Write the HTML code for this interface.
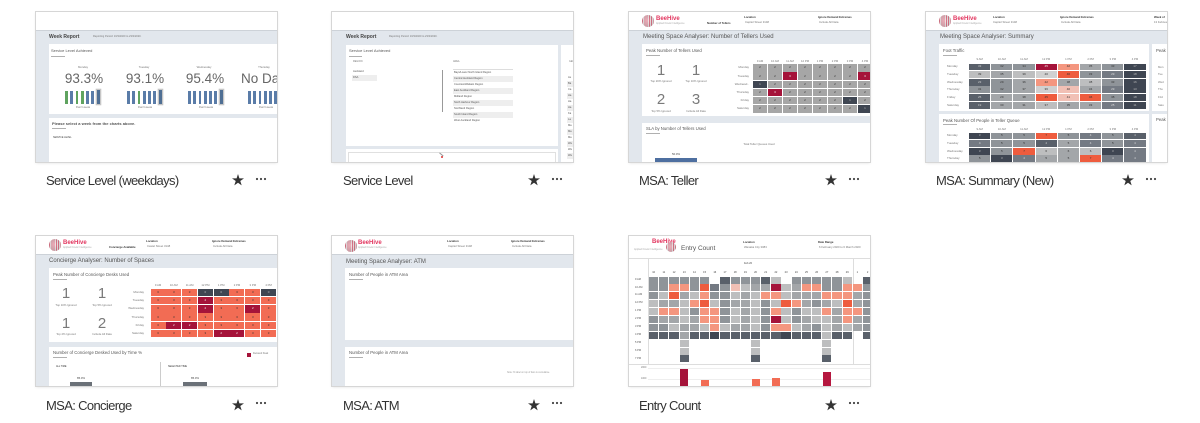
<!DOCTYPE html>
<html><head><meta charset="utf-8"><style>
*{box-sizing:border-box}
body{margin:0;width:1200px;height:423px;background:#fff;position:relative;overflow:hidden;font-family:"Liberation Sans",sans-serif}
.t{position:absolute;width:241px;height:150px;overflow:hidden;background:#e2e7ed;box-shadow:0 0 0 1px #d6d6d6,0 1px 3px rgba(0,0,0,.13)}
.t>*{position:absolute;white-space:nowrap;line-height:1}
.hd{left:0;top:0;width:241px;height:18.5px;background:#fff;border-bottom:1px solid #cdd2d8}
.pn{background:#fff}
.ti{font-size:6px;color:#555}
.pt{font-size:4.3px;color:#555}
.ul{height:.7px;width:14px;background:#b0b0b0}
.sm{font-size:2.8px;color:#777}
.hb{font-size:2.8px;color:#333;font-weight:bold}
.c{text-align:center}
.big{font-size:15px;color:#7a7a7a;text-align:center;width:30px}
.g{display:grid}
.g i{font-style:normal;font-size:3px;display:flex;align-items:center;justify-content:center;color:#333;line-height:1}
.rl{display:grid;font-size:3px;color:#777}
.rl span{display:flex;align-items:center}
.rr span{justify-content:flex-end}
.lbl{position:absolute;font-size:13px;letter-spacing:-.65px;color:#333;line-height:13px;white-space:nowrap}
.st{position:absolute;width:12px;height:12px}
.dt{position:absolute;width:14px;height:4px}
.logo{width:12px;height:12px;border-radius:50%;background:repeating-linear-gradient(90deg,rgba(205,40,70,.55) 0 .8px,rgba(255,255,255,.3) .8px 1.8px),radial-gradient(circle at 45% 45%,#f4d4da,#b9b9b9 70%,#8d8d8d)}
.bh{font-size:6px;font-weight:bold;color:#e2365f}
.bars{display:flex;align-items:flex-end;gap:2.5px;height:15px}
.bars span{width:2.8px;height:13px;background:#5a7ca8}
.bars span.gr{background:#5fa35f}
.bars span.hl{background:#4f6f94;box-shadow:0 0 0 1.3px #c6c6c6;height:14px}
.g i.k{background:#3f4652;color:#bbb}
.g i.k2{background:#59606a;color:#ccc}
.g i.m1{background:#747a83;color:#ddd}
.g i.m2{background:#8f9499}
.g i.m3{background:#a3a6a9}
.g i.l1{background:#bdbebf}
.g i.l2{background:#d0d0d0}
.g i.cr{background:#a5133a;color:#eee}
.g i.or{background:#ee5c3e}
.g i.sa{background:#f4967f}
.g i.ps{background:#f1c0b5}
.g i.co{background:#f26c54}
.g i.tg{background:#a6a6a6}
.g i.e{background:transparent}
.lst span{display:block;height:6px;font-size:2.6px;color:#555;line-height:6px;padding-left:1px}
.lst span:nth-child(even){background:#eeeeee}
</style></head><body>

<!-- Thumb 1: Service Level (weekdays) -->
<div class="t" style="left:36px;top:12px">
<div class="hd"></div>
<div style="left:13px;top:22.5px;font-size:5px;font-weight:bold;color:#444">Week Report</div>
<div class="sm" style="left:57px;top:23.5px;font-size:2.6px">Reporting Period: 16/3/2020 to 23/3/2020.</div>
<div class="pn" style="left:13px;top:32px;width:228px;height:70px"></div>
<div class="pt" style="left:15px;top:37px;font-size:4px">Service Level Achieved</div>
<div class="ul" style="left:15px;top:43.5px"></div>
<div class="sm c" style="left:27px;top:53.5px;width:40px">Monday</div>
<div class="sm c" style="left:88px;top:53.5px;width:40px">Tuesday</div>
<div class="sm c" style="left:148px;top:53.5px;width:40px">Wednesday</div>
<div class="sm c" style="left:208px;top:53.5px;width:40px">Thursday</div>
<div class="c" style="left:23px;top:60px;width:50px;font-size:13.5px;color:#666">93.3%</div>
<div class="c" style="left:84px;top:60px;width:50px;font-size:13.5px;color:#666">93.1%</div>
<div class="c" style="left:144px;top:60px;width:50px;font-size:13.5px;color:#666">95.4%</div>
<div style="left:205px;top:60px;font-size:13.5px;color:#666">No Data</div>
<div class="bars" style="left:29px;top:77px"><span class="gr"></span><span></span><span class="gr"></span><span class="gr"></span><span></span><span></span><span class="hl"></span></div>
<div class="bars" style="left:91px;top:77px"><span></span><span></span><span class="gr"></span><span></span><span></span><span></span><span class="hl"></span></div>
<div class="bars" style="left:152px;top:77px"><span></span><span></span><span></span><span></span><span></span><span></span><span class="hl"></span></div>
<div class="bars" style="left:212px;top:77px"><span></span><span></span><span></span><span></span><span></span><span></span><span></span></div>
<div class="sm c" style="left:27px;top:95px;width:40px;font-size:2.4px">Past 6 weeks</div>
<div class="sm c" style="left:89px;top:95px;width:40px;font-size:2.4px">Past 6 weeks</div>
<div class="sm c" style="left:150px;top:95px;width:40px;font-size:2.4px">Past 6 weeks</div>
<div class="sm c" style="left:210px;top:95px;width:40px;font-size:2.4px">Past 6 weeks</div>
<div class="pn" style="left:13px;top:106px;width:228px;height:44px"></div>
<div style="left:16px;top:110px;font-size:4px;font-weight:bold;color:#555">Please select a week from the charts above.</div>
<div class="ul" style="left:16px;top:116px"></div>
<div style="left:17px;top:125px;font-size:2.4px;color:#444">SERVICE LEVEL</div>
</div>

<!-- Thumb 2: Service Level -->
<div class="t" style="left:332px;top:12px">
<div class="hd"></div>
<div style="left:14px;top:23px;font-size:5px;font-weight:bold;color:#444">Week Report</div>
<div class="sm" style="left:57px;top:24px;font-size:2.6px">Reporting Period: 16/3/2020 to 23/3/2020.</div>
<div class="pn" style="left:14px;top:33px;width:212px;height:101px"></div>
<div class="pn" style="left:229px;top:33px;width:14px;height:120px"></div>
<div class="pt" style="left:17px;top:37px;font-size:4px">Service Level Achieved</div>
<div class="ul" style="left:17px;top:43.5px;width:13px"></div>
<div class="sm" style="left:21px;top:49px;font-size:2.4px">REGION</div>
<div class="lst" style="left:20px;top:56.5px;width:25px"><span>Auckland</span><span>DSA</span></div>
<div style="left:110px;top:58px;width:.7px;height:42px;background:#999"></div>
<div class="sm" style="left:121px;top:49px;font-size:2.4px">AREA</div>
<div class="lst" style="left:121px;top:56.5px;width:60px;border-top:.5px solid #ddd"><span>Bays/Lower North Island Region</span><span>Central Auckland Region</span><span>Counties/Waikato Region</span><span>East Auckland Region</span><span>Midland Region</span><span>North Harbour Region</span><span>Northland Region</span><span>South Island Region</span><span>West Auckland Region</span></div>
<div class="sm" style="left:237px;top:49px;font-size:2.4px">GEO</div>
<div class="lst" style="left:235px;top:62.5px;width:10px"><span>Au</span><span>Ba</span><span>Ca</span><span>Ha</span><span>Ha</span><span>Ha</span><span>Ka</span><span>La</span><span>Ma</span><span>Ma</span><span>Ma</span><span>Wa</span><span>Wa</span><span>Wa</span></div>
<div class="pn" style="left:14px;top:137px;width:212px;height:14px"></div>
<div style="left:16px;top:140px;width:208px;height:12px;border:.7px solid #e0e0e0"></div>
<div style="left:107px;top:142px;width:5px;height:.6px;background:#999;transform:rotate(40deg)"></div>
<div style="left:109px;top:144px;width:2.2px;height:2.2px;border-radius:50%;background:#d33"></div>
</div>

<!-- Thumb 3: MSA Teller -->
<div class="t" style="left:629px;top:12px">
<div class="hd"></div>
<div class="logo" style="left:13px;top:3px"></div>
<div class="bh" style="left:27px;top:3.5px">BeeHive</div>
<div class="sm" style="left:27px;top:10.5px;font-size:2.4px;color:#aaa">Applied Kinetic Intelligence</div>
<div class="hb" style="left:78px;top:9.5px">Number of Tellers</div>
<div class="hb" style="left:115px;top:3.5px">Location</div>
<div class="sm" style="left:116px;top:8.5px">Capitol Street 3148</div>
<div class="hb" style="left:189px;top:3.5px">Ignore Demand Extremes</div>
<div class="sm" style="left:190px;top:8.5px">Include All Data</div>
<div class="ti" style="left:14px;top:22px">Meeting Space Analyser: Number of Tellers Used</div>
<div class="pn" style="left:13px;top:32px;width:228px;height:72px"></div>
<div class="pt" style="left:17px;top:36.8px">Peak Number of Tellers Used</div>
<div class="ul" style="left:17px;top:42.5px"></div>
<div class="big" style="left:17px;top:50.5px">1</div>
<div class="big" style="left:52px;top:50.5px">1</div>
<div class="big" style="left:17px;top:80px">2</div>
<div class="big" style="left:52px;top:80px">3</div>
<div class="sm c" style="left:12px;top:68px;width:40px">Top 20% Ignored</div>
<div class="sm c" style="left:47px;top:68px;width:40px">Top 10% Ignored</div>
<div class="sm c" style="left:12px;top:97.5px;width:40px">Top 5% Ignored</div>
<div class="sm c" style="left:47px;top:97.5px;width:40px">Include All Data</div>
<div class="g sm" style="left:124px;top:47.5px;grid-template-columns:repeat(8,14px);column-gap:1px"><span class="c">9 AM</span><span class="c">10 AM</span><span class="c">11 AM</span><span class="c">12 PM</span><span class="c">1 PM</span><span class="c">2 PM</span><span class="c">3 PM</span><span class="c">4 PM</span></div>
<div class="rl rr" style="left:90px;top:52.3px;width:30px;grid-auto-rows:7.4px;row-gap:.8px"><span>Monday</span><span>Tuesday</span><span>Wednesd..</span><span>Thursday</span><span>Friday</span><span>Saturday</span></div>
<div class="g" style="left:124px;top:52.3px;grid-template-columns:repeat(8,14px);column-gap:1px;grid-auto-rows:7.4px;row-gap:.8px">
<i class="tg">2</i><i class="tg">2</i><i class="tg">2</i><i class="tg">2</i><i class="tg">2</i><i class="tg">2</i><i class="tg">2</i><i class="tg">2</i>
<i class="tg">2</i><i class="tg">2</i><i class="cr">3</i><i class="tg">2</i><i class="tg">2</i><i class="tg">2</i><i class="tg">2</i><i class="cr">3</i>
<i class="k">1</i><i class="tg">2</i><i class="tg">2</i><i class="tg">2</i><i class="tg">2</i><i class="tg">2</i><i class="tg">2</i><i class="tg">2</i>
<i class="tg">2</i><i class="cr">3</i><i class="tg">2</i><i class="tg">2</i><i class="tg">2</i><i class="tg">2</i><i class="tg">2</i><i class="tg">2</i>
<i class="tg">2</i><i class="tg">2</i><i class="tg">2</i><i class="tg">2</i><i class="tg">2</i><i class="tg">2</i><i class="k">1</i><i class="tg">2</i>
<i class="tg">2</i><i class="tg">2</i><i class="tg">2</i><i class="tg">2</i><i class="tg">2</i><i class="tg">2</i><i class="tg">2</i><i class="k">1</i>
</div>
<div class="pn" style="left:13px;top:111px;width:228px;height:39px"></div>
<div class="pt" style="left:17px;top:115px">SLA by Number of Tellers Used</div>
<div class="ul" style="left:17px;top:121px"></div>
<div class="sm c" style="left:100px;top:130.5px;width:60px">Total Teller Queues Used</div>
<div class="sm c" style="left:37px;top:140.5px;width:20px;color:#444">50.0%</div>
<div style="left:26px;top:145.5px;width:42px;height:6px;background:#4e6fa0"></div>
</div>

<!-- Thumb 4: MSA Summary -->
<div class="t" style="left:926px;top:12px">
<div class="hd"></div>
<div class="logo" style="left:13px;top:3px"></div>
<div class="bh" style="left:27px;top:3.5px">BeeHive</div>
<div class="sm" style="left:27px;top:10.5px;font-size:2.4px;color:#aaa">Applied Kinetic Intelligence</div>
<div class="hb" style="left:67px;top:3.5px">Location</div>
<div class="sm" style="left:67px;top:8.5px">Capitol Street 3148</div>
<div class="hb" style="left:134px;top:3.5px">Ignore Demand Extremes</div>
<div class="sm" style="left:135px;top:8.5px">Include All Data</div>
<div class="hb" style="left:228px;top:3.5px">Week of</div>
<div class="sm" style="left:228px;top:8.5px">13 February</div>
<div class="ti" style="left:14px;top:22px">Meeting Space Analyser: Summary</div>
<div class="pn" style="left:13px;top:32px;width:210px;height:67px"></div>
<div class="pn" style="left:226px;top:32px;width:20px;height:67px"></div>
<div class="pn" style="left:13px;top:102px;width:210px;height:50px"></div>
<div class="pn" style="left:226px;top:102px;width:20px;height:50px"></div>
<div class="pt" style="left:17px;top:37px">Foot Traffic</div>
<div class="ul" style="left:17px;top:42.5px"></div>
<div class="pt" style="left:230px;top:37px">Peak</div>
<div class="pt" style="left:230px;top:106px">Peak</div>
<div class="rl" style="left:232px;top:51.5px;grid-auto-rows:6.9px;row-gap:.75px;font-size:2.8px"><span>Mon</span><span>Tue</span><span>Wed</span><span>Thu</span><span>Frid</span><span>Satu</span></div>
<div class="g sm" style="left:43px;top:45.5px;grid-template-columns:repeat(8,21.3px);column-gap:.9px"><span class="c">9 AM</span><span class="c">10 AM</span><span class="c">11 AM</span><span class="c">12 PM</span><span class="c">1 PM</span><span class="c">2 PM</span><span class="c">3 PM</span><span class="c">4 PM</span></div>
<div class="rl" style="left:21px;top:51.5px;grid-auto-rows:6.9px;row-gap:.75px"><span>Monday</span><span>Tuesday</span><span>Wednesday</span><span>Thursday</span><span>Friday</span><span>Saturday</span></div>
<div class="g" style="left:43px;top:51.5px;grid-template-columns:repeat(8,21.3px);column-gap:.9px;grid-auto-rows:6.9px;row-gap:.75px">
<i class="k2">33</i><i class="m2">32</i><i class="m2">34</i><i class="cr">45</i><i class="sa">42</i><i class="m3">35</i><i class="m2">33</i><i class="k">17</i>
<i class="l1">39</i><i class="m3">35</i><i class="l1">39</i><i class="l2">40</i><i class="or">46</i><i class="m2">33</i><i class="m1">29</i><i class="k">18</i>
<i class="k2">23</i><i class="m2">29</i><i class="m3">36</i><i class="sa">42</i><i class="m3">38</i><i class="l1">38</i><i class="m2">33</i><i class="k">16</i>
<i class="m2">31</i><i class="m2">32</i><i class="m3">37</i><i class="l2">36</i><i class="ps">40</i><i class="m3">34</i><i class="m1">29</i><i class="k">13</i>
<i class="k2">25</i><i class="m3">29</i><i class="m3">38</i><i class="or">45</i><i class="ps">41</i><i class="or">46</i><i class="m2">38</i><i class="k">18</i>
<i class="k2">19</i><i class="m3">30</i><i class="m3">31</i><i class="l1">37</i><i class="m3">35</i><i class="m3">33</i><i class="m1">25</i><i class="k">11</i>
</div>
<div class="pt" style="left:17px;top:106.5px">Peak Number Of People in Teller Queue</div>
<div class="ul" style="left:17px;top:112px"></div>
<div class="g sm" style="left:43px;top:115.5px;grid-template-columns:repeat(8,21.3px);column-gap:.9px"><span class="c">9 AM</span><span class="c">10 AM</span><span class="c">11 AM</span><span class="c">12 PM</span><span class="c">1 PM</span><span class="c">2 PM</span><span class="c">3 PM</span><span class="c">4 PM</span></div>
<div class="rl" style="left:21px;top:120.5px;grid-auto-rows:6.9px;row-gap:.75px"><span>Monday</span><span>Tuesday</span><span>Wednesday</span><span>Thursday</span></div>
<div class="g" style="left:43px;top:120.5px;grid-template-columns:repeat(8,21.3px);column-gap:.9px;grid-auto-rows:6.9px;row-gap:.75px">
<i class="k">3</i><i class="m2">5</i><i class="m2">5</i><i class="or">7</i><i class="m2">5</i><i class="m1">4</i><i class="m2">5</i><i class="k2">4</i>
<i class="m1">4</i><i class="m2">5</i><i class="m2">5</i><i class="k2">4</i><i class="m3">5</i><i class="m1">4</i><i class="m2">5</i><i class="m1">4</i>
<i class="k">3</i><i class="m2">5</i><i class="or">7</i><i class="l1">6</i><i class="m3">6</i><i class="l1">6</i><i class="k">3</i><i class="m1">4</i>
<i class="m2">5</i><i class="k">3</i><i class="m1">4</i><i class="m3">5</i><i class="m3">5</i><i class="or">7</i><i class="m1">4</i><i class="m1">4</i>
</div>
</div>

<!-- Thumb 5: MSA Concierge -->
<div class="t" style="left:36px;top:236px">
<div class="hd"></div>
<div class="logo" style="left:13px;top:3px"></div>
<div class="bh" style="left:27px;top:3.5px">BeeHive</div>
<div class="sm" style="left:27px;top:10.5px;font-size:2.4px;color:#aaa">Applied Kinetic Intelligence</div>
<div class="hb" style="left:73px;top:9.5px">Concierge Available</div>
<div class="hb" style="left:110px;top:3.5px">Location</div>
<div class="sm" style="left:111px;top:8.5px">Castel Street 3148</div>
<div class="hb" style="left:176px;top:3.5px">Ignore Demand Extremes</div>
<div class="sm" style="left:177px;top:8.5px">Include All Data</div>
<div class="ti" style="left:13px;top:22px">Concierge Analyser: Number of Spaces</div>
<div class="pn" style="left:13px;top:32px;width:228px;height:74px"></div>
<div class="pt" style="left:17px;top:37px">Peak Number of Concierge Desks Used</div>
<div class="ul" style="left:17px;top:42.5px"></div>
<div class="big" style="left:15px;top:50px">1</div>
<div class="big" style="left:51px;top:50px">1</div>
<div class="big" style="left:15px;top:80px">1</div>
<div class="big" style="left:51px;top:80px">2</div>
<div class="sm c" style="left:10px;top:67.5px;width:40px">Top 10% Ignored</div>
<div class="sm c" style="left:46px;top:67.5px;width:40px">Top 5% Ignored</div>
<div class="sm c" style="left:10px;top:97px;width:40px">Top 2% Ignored</div>
<div class="sm c" style="left:46px;top:97px;width:40px">Include All Data</div>
<div class="g sm" style="left:114.5px;top:47.5px;grid-template-columns:repeat(8,15px);column-gap:.8px"><span class="c">9 AM</span><span class="c">10 AM</span><span class="c">11 AM</span><span class="c">12 PM</span><span class="c">1 PM</span><span class="c">2 PM</span><span class="c">3 PM</span><span class="c">4 PM</span></div>
<div class="rl rr" style="left:78px;top:52.5px;width:30px;grid-auto-rows:7.5px;row-gap:.8px"><span>Monday</span><span>Tuesday</span><span>Wednesday</span><span>Thursday</span><span>Friday</span><span>Saturday</span></div>
<div class="g" style="left:114.5px;top:52.5px;grid-template-columns:repeat(8,15px);column-gap:.8px;grid-auto-rows:7.5px;row-gap:.8px">
<i class="co">3</i><i class="co">3</i><i class="co">3</i><i class="k">0</i><i class="k">0</i><i class="co">3</i><i class="co">3</i><i class="k">0</i>
<i class="co">3</i><i class="co">3</i><i class="co">3</i><i class="cr">2</i><i class="co">3</i><i class="co">3</i><i class="co">3</i><i class="co">3</i>
<i class="co">3</i><i class="co">3</i><i class="co">3</i><i class="cr">2</i><i class="co">3</i><i class="co">3</i><i class="cr">2</i><i class="co">3</i>
<i class="co">3</i><i class="co">3</i><i class="co">3</i><i class="co">3</i><i class="co">3</i><i class="co">3</i><i class="co">3</i><i class="co">3</i>
<i class="co">3</i><i class="cr">2</i><i class="cr">2</i><i class="co">3</i><i class="co">3</i><i class="co">3</i><i class="co">3</i><i class="co">3</i>
<i class="co">3</i><i class="co">3</i><i class="co">3</i><i class="co">3</i><i class="cr">2</i><i class="cr">2</i><i class="co">3</i><i class="co">3</i>
</div>
<div class="pn" style="left:13px;top:111px;width:228px;height:39px"></div>
<div class="pt" style="left:17px;top:115px">Number of Concierge Desked Used by Time %</div>
<div class="ul" style="left:17px;top:121px"></div>
<div style="left:211px;top:116.5px;width:4px;height:4px;background:#a5133a"></div>
<div class="sm" style="left:217px;top:117px;font-size:2.4px">Demand Peak</div>
<div style="left:20px;top:130px;font-size:2.4px;color:#333">ALL TIME</div>
<div style="left:132px;top:130px;font-size:2.4px;color:#333">SELECTED TIME</div>
<div style="left:124px;top:126px;width:.7px;height:30px;background:#ccc"></div>
<div class="sm c" style="left:35px;top:140.5px;width:20px;color:#444">85.0%</div>
<div style="left:34px;top:145.5px;width:22px;height:6px;background:#6b7178"></div>
<div class="sm c" style="left:149px;top:140.5px;width:20px;color:#444">85.0%</div>
<div style="left:147px;top:145.5px;width:24px;height:6px;background:#6b7178"></div>
</div>

<!-- Thumb 6: MSA ATM -->
<div class="t" style="left:332px;top:236px">
<div class="hd"></div>
<div class="logo" style="left:13px;top:3.5px"></div>
<div class="bh" style="left:26px;top:4px">BeeHive</div>
<div class="sm" style="left:26px;top:11px;font-size:2.4px;color:#aaa">Applied Kinetic Intelligence</div>
<div class="hb" style="left:115px;top:4px">Location</div>
<div class="sm" style="left:116px;top:9px">Capitol Street 3148</div>
<div class="hb" style="left:179px;top:4px">Ignore Demand Extremes</div>
<div class="sm" style="left:180px;top:9px">Include All Data</div>
<div class="ti" style="left:14px;top:22.5px">Meeting Space Analyser: ATM</div>
<div class="pn" style="left:13px;top:32.4px;width:228px;height:71.6px"></div>
<div class="pt" style="left:17px;top:37px">Number of People in ATM Area</div>
<div class="ul" style="left:17px;top:43px"></div>
<div class="pn" style="left:13px;top:110.7px;width:228px;height:40px"></div>
<div class="pt" style="left:17px;top:115px">Number of People in ATM Area</div>
<div class="ul" style="left:17px;top:121px"></div>
<div class="sm" style="left:175px;top:136px;font-size:2.3px;color:#999">Note: % label on top of bars is cumulative.</div>
</div>

<!-- Thumb 7: Entry Count -->
<div class="t" style="left:629px;top:236px;background:#fff">
<div class="bh" style="left:23px;top:3px">BeeHive</div>
<div class="sm" style="left:5px;top:12.5px;font-size:2.4px;color:#aaa">Applied Kinetic Intelligence</div>
<div class="logo" style="left:37px;top:5.5px;width:10px;height:10px"></div>
<div style="left:52px;top:9.5px;font-size:6.5px;color:#555">Entry Count</div>
<div class="hb" style="left:114px;top:4.5px">Location</div>
<div class="sm" style="left:115px;top:9.5px">Wanaka City 3083</div>
<div class="hb" style="left:189px;top:4.5px">Date Range</div>
<div class="sm" style="left:190px;top:9.5px">6 February 2020 to 6 March 2020</div>
<div style="left:0;top:21.5px;width:241px;height:.7px;background:#ddd"></div>
<div style="left:19px;top:22px;width:.7px;height:107px;background:#ddd"></div>
<div style="left:224.3px;top:22px;width:.7px;height:107px;background:#ddd"></div>
<div class="sm c" style="left:109px;top:27px;width:20px;font-size:2.6px;color:#444">Feb 20</div>
<div class="g sm" style="left:20px;top:35.8px;grid-template-columns:repeat(22,9.3px);column-gap:.9px;font-size:2.6px;color:#444"><span class="c">10</span><span class="c">11</span><span class="c">12</span><span class="c">13</span><span class="c">14</span><span class="c">15</span><span class="c">16</span><span class="c">17</span><span class="c">18</span><span class="c">19</span><span class="c">20</span><span class="c">21</span><span class="c">22</span><span class="c">23</span><span class="c">24</span><span class="c">25</span><span class="c">26</span><span class="c">27</span><span class="c">28</span><span class="c">29</span><span class="c">1</span><span class="c">2</span></div>
<div class="rl" style="left:6px;top:40.5px;grid-auto-rows:7px;row-gap:.9px;font-size:2.6px;color:#555"><span>9 AM</span><span>10 AM</span><span>11 AM</span><span>12 PM</span><span>1 PM</span><span>2 PM</span><span>3 PM</span><span>4 PM</span><span>5 PM</span><span>6 PM</span><span>7 PM</span></div>
<div class="g" style="left:20px;top:40.5px;grid-template-columns:repeat(22,9.3px);column-gap:.9px;grid-auto-rows:7px;row-gap:.9px">
<i class="m2"></i><i class="m2"></i><i class="m2"></i><i class="m2"></i><i class="m2"></i><i class="m2"></i><i class="e"></i><i class="k2"></i><i class="m2"></i><i class="m2"></i><i class="m2"></i><i class="k2"></i><i class="l1"></i><i class="e"></i><i class="m2"></i><i class="m2"></i><i class="m2"></i><i class="m2"></i><i class="m2"></i><i class="l1"></i><i class="e"></i><i class="k2"></i>
<i class="m2"></i><i class="m2"></i><i class="sa"></i><i class="sa"></i><i class="m2"></i><i class="or"></i><i class="m1"></i><i class="m2"></i><i class="ps"></i><i class="l1"></i><i class="m3"></i><i class="m3"></i><i class="cr"></i><i class="l1"></i><i class="m3"></i><i class="sa"></i><i class="sa"></i><i class="m2"></i><i class="m2"></i><i class="sa"></i><i class="sa"></i><i class="m2"></i>
<i class="m2"></i><i class="l1"></i><i class="or"></i><i class="m3"></i><i class="l1"></i><i class="sa"></i><i class="m2"></i><i class="m2"></i><i class="l1"></i><i class="m3"></i><i class="l1"></i><i class="sa"></i><i class="sa"></i><i class="l1"></i><i class="m3"></i><i class="m3"></i><i class="m3"></i><i class="sa"></i><i class="sa"></i><i class="sa"></i><i class="m3"></i><i class="m2"></i>
<i class="l1"></i><i class="m3"></i><i class="m3"></i><i class="l1"></i><i class="sa"></i><i class="or"></i><i class="l1"></i><i class="m2"></i><i class="m3"></i><i class="m3"></i><i class="l1"></i><i class="m2"></i><i class="l1"></i><i class="or"></i><i class="sa"></i><i class="m3"></i><i class="m2"></i><i class="m3"></i><i class="l1"></i><i class="or"></i><i class="m3"></i><i class="m2"></i>
<i class="l1"></i><i class="sa"></i><i class="sa"></i><i class="l1"></i><i class="m2"></i><i class="sa"></i><i class="sa"></i><i class="m2"></i><i class="l1"></i><i class="m3"></i><i class="l1"></i><i class="m2"></i><i class="sa"></i><i class="l1"></i><i class="m2"></i><i class="l1"></i><i class="l1"></i><i class="sa"></i><i class="m3"></i><i class="sa"></i><i class="sa"></i><i class="m2"></i>
<i class="m2"></i><i class="m3"></i><i class="m3"></i><i class="l1"></i><i class="m3"></i><i class="sa"></i><i class="sa"></i><i class="m2"></i><i class="l1"></i><i class="m3"></i><i class="l1"></i><i class="m2"></i><i class="cr"></i><i class="l1"></i><i class="m2"></i><i class="m3"></i><i class="l1"></i><i class="l1"></i><i class="m3"></i><i class="sa"></i><i class="m3"></i><i class="m2"></i>
<i class="m2"></i><i class="m2"></i><i class="l1"></i><i class="m3"></i><i class="m3"></i><i class="l1"></i><i class="sa"></i><i class="l1"></i><i class="m3"></i><i class="m3"></i><i class="l1"></i><i class="m2"></i><i class="sa"></i><i class="sa"></i><i class="l1"></i><i class="m3"></i><i class="m2"></i><i class="l1"></i><i class="m3"></i><i class="l1"></i><i class="m3"></i><i class="m2"></i>
<i class="k2"></i><i class="k2"></i><i class="k2"></i><i class="m3"></i><i class="k2"></i><i class="k2"></i><i class="k"></i><i class="k2"></i><i class="k2"></i><i class="k2"></i><i class="k2"></i><i class="k2"></i><i class="k2"></i><i class="k"></i><i class="k2"></i><i class="k2"></i><i class="k2"></i><i class="l1"></i><i class="k2"></i><i class="k2"></i><i class="e"></i><i class="k2"></i>
<i class="e"></i><i class="e"></i><i class="e"></i><i class="l1"></i><i class="e"></i><i class="e"></i><i class="e"></i><i class="e"></i><i class="e"></i><i class="e"></i><i class="l1"></i><i class="e"></i><i class="e"></i><i class="e"></i><i class="e"></i><i class="e"></i><i class="e"></i><i class="l1"></i><i class="e"></i><i class="e"></i><i class="e"></i><i class="e"></i>
<i class="e"></i><i class="e"></i><i class="e"></i><i class="l1"></i><i class="e"></i><i class="e"></i><i class="e"></i><i class="e"></i><i class="e"></i><i class="e"></i><i class="l1"></i><i class="e"></i><i class="e"></i><i class="e"></i><i class="e"></i><i class="e"></i><i class="e"></i><i class="l1"></i><i class="e"></i><i class="e"></i><i class="e"></i><i class="e"></i>
<i class="e"></i><i class="e"></i><i class="e"></i><i class="k2"></i><i class="e"></i><i class="e"></i><i class="e"></i><i class="e"></i><i class="e"></i><i class="e"></i><i class="k2"></i><i class="e"></i><i class="e"></i><i class="e"></i><i class="e"></i><i class="e"></i><i class="e"></i><i class="k2"></i><i class="e"></i><i class="e"></i><i class="e"></i><i class="e"></i>
</div>
<div style="left:0;top:128.3px;width:241px;height:.7px;background:#ddd"></div>
<div style="left:19px;top:132px;width:222px;height:.5px;background:#eee"></div>
<div style="left:19px;top:143px;width:222px;height:.5px;background:#eee"></div>
<div class="sm" style="left:12px;top:130.8px;font-size:2.4px">2000</div>
<div class="sm" style="left:12px;top:141.8px;font-size:2.4px">1000</div>
<div style="left:51px;top:133px;width:8.3px;height:18px;background:#a5133a"></div>
<div style="left:71.5px;top:144px;width:8px;height:7px;background:#f26c54"></div>
<div style="left:122.5px;top:143px;width:8px;height:8px;background:#f26c54"></div>
<div style="left:143px;top:142px;width:8.3px;height:9px;background:#f26c54"></div>
<div style="left:194px;top:136px;width:8.3px;height:15px;background:#b5173f"></div>
</div>

<!-- Labels -->
<div class="lbl" style="left:46px;top:174px">Service Level (weekdays)</div>
<div class="lbl" style="left:343px;top:174px">Service Level</div>
<div class="lbl" style="left:639px;top:174px">MSA: Teller</div>
<div class="lbl" style="left:936px;top:174px">MSA: Summary (New)</div>
<div class="lbl" style="left:46px;top:398.5px">MSA: Concierge</div>
<div class="lbl" style="left:343px;top:398.5px">MSA: ATM</div>
<div class="lbl" style="left:639px;top:398.5px">Entry Count</div>

<!-- Stars -->
<svg class="st" style="left:232px;top:174.3px" viewBox="0 0 12 12"><polygon fill="#333" points="6,0 7.41,4.36 11.99,4.35 8.28,7.04 9.7,11.4 6,8.7 2.3,11.4 3.72,7.04 0.01,4.35 4.59,4.36"/></svg>
<svg class="st" style="left:528px;top:174.3px" viewBox="0 0 12 12"><polygon fill="#333" points="6,0 7.41,4.36 11.99,4.35 8.28,7.04 9.7,11.4 6,8.7 2.3,11.4 3.72,7.04 0.01,4.35 4.59,4.36"/></svg>
<svg class="st" style="left:825px;top:174.3px" viewBox="0 0 12 12"><polygon fill="#333" points="6,0 7.41,4.36 11.99,4.35 8.28,7.04 9.7,11.4 6,8.7 2.3,11.4 3.72,7.04 0.01,4.35 4.59,4.36"/></svg>
<svg class="st" style="left:1122px;top:174.3px" viewBox="0 0 12 12"><polygon fill="#333" points="6,0 7.41,4.36 11.99,4.35 8.28,7.04 9.7,11.4 6,8.7 2.3,11.4 3.72,7.04 0.01,4.35 4.59,4.36"/></svg>
<svg class="st" style="left:232px;top:398.7px" viewBox="0 0 12 12"><polygon fill="#333" points="6,0 7.41,4.36 11.99,4.35 8.28,7.04 9.7,11.4 6,8.7 2.3,11.4 3.72,7.04 0.01,4.35 4.59,4.36"/></svg>
<svg class="st" style="left:528px;top:398.7px" viewBox="0 0 12 12"><polygon fill="#333" points="6,0 7.41,4.36 11.99,4.35 8.28,7.04 9.7,11.4 6,8.7 2.3,11.4 3.72,7.04 0.01,4.35 4.59,4.36"/></svg>
<svg class="st" style="left:825px;top:398.7px" viewBox="0 0 12 12"><polygon fill="#333" points="6,0 7.41,4.36 11.99,4.35 8.28,7.04 9.7,11.4 6,8.7 2.3,11.4 3.72,7.04 0.01,4.35 4.59,4.36"/></svg>

<!-- Dots -->
<svg class="dt" style="left:254px;top:176.8px" viewBox="0 0 14 4"><circle cx="3" cy="2" r="1.1" fill="#444"/><circle cx="7" cy="2" r="1.1" fill="#444"/><circle cx="11" cy="2" r="1.1" fill="#444"/></svg>
<svg class="dt" style="left:550px;top:176.8px" viewBox="0 0 14 4"><circle cx="3" cy="2" r="1.1" fill="#444"/><circle cx="7" cy="2" r="1.1" fill="#444"/><circle cx="11" cy="2" r="1.1" fill="#444"/></svg>
<svg class="dt" style="left:847px;top:176.8px" viewBox="0 0 14 4"><circle cx="3" cy="2" r="1.1" fill="#444"/><circle cx="7" cy="2" r="1.1" fill="#444"/><circle cx="11" cy="2" r="1.1" fill="#444"/></svg>
<svg class="dt" style="left:1144px;top:176.8px" viewBox="0 0 14 4"><circle cx="3" cy="2" r="1.1" fill="#444"/><circle cx="7" cy="2" r="1.1" fill="#444"/><circle cx="11" cy="2" r="1.1" fill="#444"/></svg>
<svg class="dt" style="left:254px;top:400.8px" viewBox="0 0 14 4"><circle cx="3" cy="2" r="1.1" fill="#444"/><circle cx="7" cy="2" r="1.1" fill="#444"/><circle cx="11" cy="2" r="1.1" fill="#444"/></svg>
<svg class="dt" style="left:550px;top:400.8px" viewBox="0 0 14 4"><circle cx="3" cy="2" r="1.1" fill="#444"/><circle cx="7" cy="2" r="1.1" fill="#444"/><circle cx="11" cy="2" r="1.1" fill="#444"/></svg>
<svg class="dt" style="left:847px;top:400.8px" viewBox="0 0 14 4"><circle cx="3" cy="2" r="1.1" fill="#444"/><circle cx="7" cy="2" r="1.1" fill="#444"/><circle cx="11" cy="2" r="1.1" fill="#444"/></svg>

</body></html>
